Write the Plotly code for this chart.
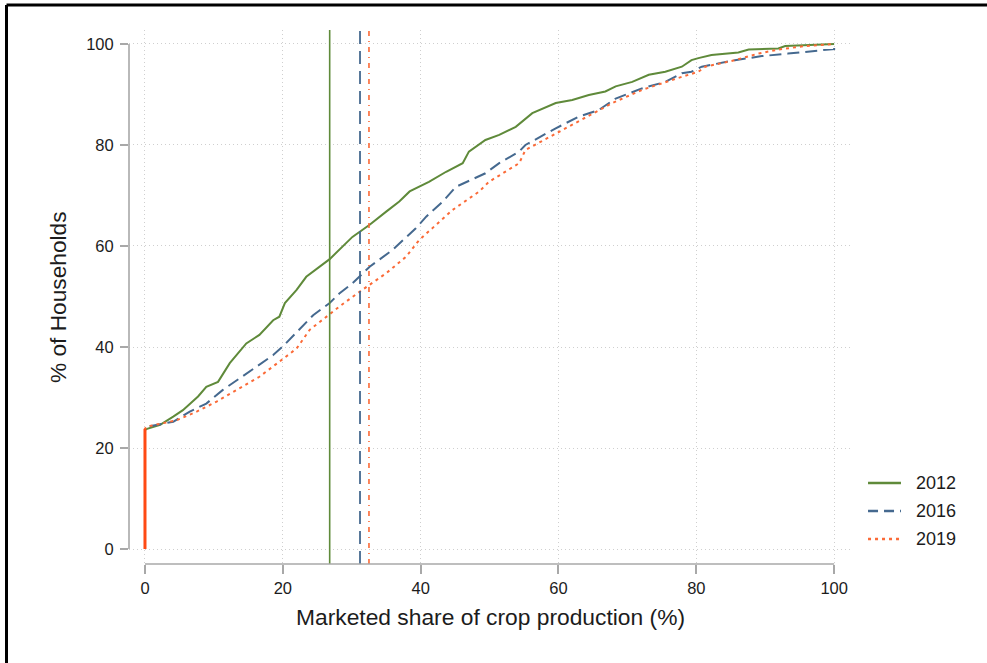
import plotly.graph_objects as go

# ---- data ----
x_2012 = [0, 0, 0.3, 2.2, 4.1, 5.5, 7.7, 8.9, 10.6, 12.3, 14.7, 16.6, 18.6, 19.5, 20.3, 22.0, 23.4, 25.3,
          26.8, 30.1, 32.6, 35.0, 36.9, 38.4, 41.2, 43.7, 46.1, 47.0, 49.4, 51.4, 53.8, 56.2, 59.6, 62.0,
          64.4, 66.8, 68.3, 70.7, 73.1, 75.5, 77.9, 79.3, 80.3, 82.2, 86.1, 87.6, 91.9, 92.9, 96.0, 100]
y_2012 = [0, 23.6, 23.8, 24.6, 26.2, 27.5, 30.2, 32.1, 33.1, 36.8, 40.7, 42.4, 45.3, 46.0, 48.7, 51.3, 53.9, 55.9,
          57.4, 61.8, 64.2, 66.8, 68.8, 70.8, 72.7, 74.7, 76.4, 78.7, 81.0, 82.0, 83.6, 86.3, 88.3, 88.9,
          89.9, 90.6, 91.6, 92.5, 93.9, 94.5, 95.5, 96.8, 97.2, 97.8, 98.3, 98.9, 99.1, 99.6, 99.8, 100]

x_2016 = [0, 0, 0.2, 4.1, 6.5, 8.9, 11.3, 13.7, 16.2, 18.6, 20.0, 22.0, 24.4, 26.8, 28.2, 30.1, 32.6, 35.9,
          39.3, 40.8, 43.2, 45.1, 49.4, 51.4, 54.3, 55.2, 59.6, 62.9, 65.8, 68.3, 72.1, 75.5, 77.9, 79.3,
          80.8, 85.6, 89.5, 93.3, 97.7, 99.6, 100, 100]
y_2016 = [0, 23.8, 24.2, 25.2, 27.2, 28.8, 31.5, 33.8, 36.1, 38.4, 40.1, 43.0, 46.3, 48.7, 50.6, 52.6, 55.9, 59.2,
          63.5, 65.8, 68.8, 71.7, 74.4, 76.4, 78.7, 80.0, 83.3, 85.6, 86.9, 89.2, 91.2, 92.5, 94.2, 94.5,
          95.5, 96.8, 97.6, 98.1, 98.7, 98.9, 99.0, 100]

x_2019 = [0, 0, 0.2, 4.6, 7.5, 10.4, 13.7, 16.6, 19.5, 22.0, 23.9, 26.3, 28.2, 31.1, 35.0, 37.9, 39.8, 44.6,
          48.5, 49.9, 54.3, 55.2, 59.6, 64.0, 67.8, 72.1, 76.4, 77.9, 80.3, 81.3, 85.6, 89.0, 91.9, 95.8, 100]
y_2019 = [0, 23.8, 24.2, 25.5, 27.2, 29.2, 31.8, 34.1, 37.1, 39.7, 43.4, 46.0, 48.0, 50.9, 54.6, 57.9, 61.2, 67.1,
          70.8, 72.7, 76.4, 79.0, 82.3, 85.6, 88.3, 90.9, 92.9, 93.5, 94.5, 95.5, 96.8, 98.1, 98.9, 99.6, 100]

years = ["2012", "2016", "2019"]
means = [26.8, 31.2, 32.5]          # vertical reference lines
x_ticks = [0, 20, 40, 60, 80, 100]
y_ticks = [0, 20, 40, 60, 80, 100]

# ---- styles ----
C_GREEN = "#5f8a3a"
C_BLUE = "#45698f"
C_ORANGE = "#fb6a37"
C_ORANGE_BOLD = "#ff4a14"
AXIS_C = "#a8a8a8"
TXT = "#1c1c1c"
FONT = "Liberation Sans, Arial, sans-serif"

series = [
    (x_2012, y_2012, C_GREEN, "solid"),
    (x_2016, y_2016, C_BLUE, "12px,6px"),
    (x_2019, y_2019, C_ORANGE, "3px,4px"),
]
vline_styles = [
    (C_GREEN, "solid", 1.6),
    (C_BLUE, "13px,7px", 1.8),
    (C_ORANGE, "5px,5px,1px,5px", 1.6),
]

fig = go.Figure()
for (xs, ys, col, dash), name in zip(series, years):
    fig.add_trace(go.Scatter(x=xs, y=ys, mode="lines", name=name,
                             line=dict(color=col, width=2, dash=dash), showlegend=False))
# bold vertical segment at zero from the 2019 series
fig.add_trace(go.Scatter(x=x_2019[:2], y=y_2019[:2], mode="lines", showlegend=False,
                         line=dict(color=C_ORANGE_BOLD, width=3)))

shapes = []
for m, (col, dash, w) in zip(means, vline_styles):
    shapes.append(dict(type="line", xref="x", yref="paper", x0=m, x1=m, y0=0, y1=1,
                       line=dict(color=col, width=w, dash=dash), layer="above"))

# detached axis lines (Stata style): spanning tick range only
shapes.append(dict(type="line", xref="x", yref="paper", x0=x_ticks[0], x1=x_ticks[-1], y0=0, y1=0,
                   line=dict(color=AXIS_C, width=1.6)))
shapes.append(dict(type="line", xref="paper", yref="y", x0=0, x1=0, y0=y_ticks[0], y1=y_ticks[-1],
                   line=dict(color=AXIS_C, width=1.6)))

# outer frame (top and left visible)
shapes.append(dict(type="line", xref="paper", yref="paper", x0=-0.1699, x1=1.25, y0=1.0468, y1=1.0468,
                   line=dict(color="black", width=3)))
shapes.append(dict(type="line", xref="paper", yref="paper", x0=-0.1699, x1=-0.1699, y0=1.0468, y1=-0.25,
                   line=dict(color="black", width=3)))

# manual legend
leg_rows = [0.1517, 0.0993, 0.0468]
leg_styles = [(C_GREEN, "solid"), (C_BLUE, "10px,6px"), (C_ORANGE, "3px,4px")]
annotations = []
for name, yy, (col, dash) in zip(years, leg_rows, leg_styles):
    shapes.append(dict(type="line", xref="paper", yref="paper", x0=1.025, x1=1.0707, y0=yy, y1=yy,
                       line=dict(color=col, width=2.4, dash=dash)))
    annotations.append(dict(xref="paper", yref="paper", x=1.0888, y=yy, text=name, showarrow=False,
                            xanchor="left", yanchor="middle", font=dict(size=18, color=TXT, family=FONT)))

annotations.append(dict(xref="paper", yref="paper", x=0.5007, y=-0.0993,
                        text="Marketed share of crop production (%)", showarrow=False,
                        xanchor="center", yanchor="middle", font=dict(size=22.8, color=TXT, family=FONT)))
annotations.append(dict(xref="paper", yref="paper", x=-0.0985, y=0.5, text="% of Households",
                        textangle=-90, showarrow=False, xanchor="center", yanchor="middle",
                        font=dict(size=22.7, color=TXT, family=FONT)))

fig.update_layout(
    width=987, height=663,
    margin=dict(l=129, r=137, t=30, b=99, pad=0),
    paper_bgcolor="white", plot_bgcolor="white",
    font=dict(family=FONT, color=TXT),
    showlegend=False,
    shapes=shapes,
    annotations=annotations,
    xaxis=dict(range=[-2.32, 102.3], tickvals=x_ticks, ticktext=[str(v) for v in x_ticks],
               showgrid=True, gridcolor="#cfcfcf", griddash="1px,3px", gridwidth=1,
               zeroline=False, showline=False, ticks="outside", ticklen=9, tickwidth=1.5,
               tickcolor=AXIS_C, tickfont=dict(size=16.5, color=TXT, family=FONT), fixedrange=True),
    yaxis=dict(range=[-2.97, 102.77], tickvals=y_ticks, ticktext=[str(v) for v in y_ticks],
               showgrid=True, gridcolor="#cfcfcf", griddash="1px,3px", gridwidth=1,
               zeroline=False, showline=False, ticks="outside", ticklen=8, tickwidth=1.5,
               ticklabelstandoff=3,
               tickcolor=AXIS_C, tickfont=dict(size=16.5, color=TXT, family=FONT), fixedrange=True),
)

fig.write_html("out.html", config={"displayModeBar": False},
               post_script="document.body.style.margin='0';document.body.style.overflow='hidden';")
